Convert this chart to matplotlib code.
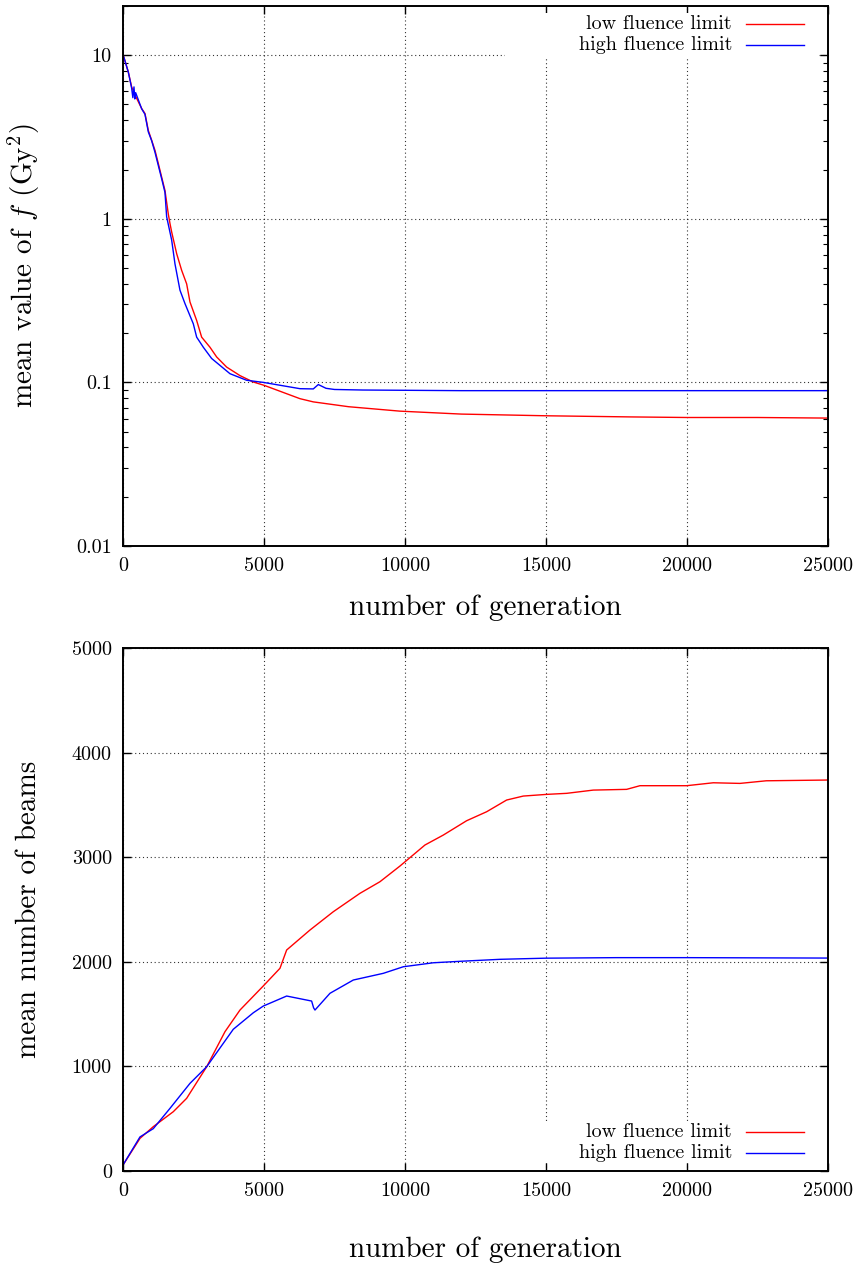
import matplotlib
matplotlib.use('Agg')
import matplotlib.pyplot as plt
from matplotlib.patches import Rectangle
from matplotlib.ticker import FixedLocator, FixedFormatter, LogLocator, NullFormatter

plt.rcParams['font.family'] = ['cmr10']
plt.rcParams['mathtext.fontset'] = 'cm'
plt.rcParams['axes.formatter.use_mathtext'] = True

# --- data ---
# top panel: mean value of f
gen_f_low = [0, 10, 188, 307, 450, 663, 780, 898, 1017, 1135, 1252, 1371, 1489, 1607, 1667,
             1727, 1904, 2081, 2258, 2376, 2613, 2790, 3085, 3322, 3677, 4149, 4622, 5000,
             6277, 6749, 8000, 9823, 12000, 15000, 18000, 20000, 22500, 25000]
f_low = [13, 10, 7.9, 6.4, 5.6, 4.72, 4.4, 3.47, 3.02, 2.62, 2.18, 1.8, 1.49, 1.07, 0.935,
         0.83, 0.612, 0.484, 0.40, 0.31, 0.239, 0.189, 0.164, 0.143, 0.124, 0.110, 0.1005, 0.096,
         0.0795, 0.076, 0.071, 0.0667, 0.064, 0.0625, 0.0615, 0.061, 0.061, 0.0605]

gen_f_high = [0, 10, 188, 307, 350, 390, 420, 450, 663, 780, 898, 1017, 1135, 1252, 1371,
              1489, 1548, 1727, 1844, 2021, 2199, 2494, 2613, 2849, 3144, 3440, 3794, 4386,
              4975, 6277, 6749, 6927, 7200, 7500, 8500, 9823, 12000, 15000, 20000, 25000]
f_high = [13, 10, 7.9, 6.3, 5.5, 6.4, 5.4, 5.9, 4.7, 4.35, 3.4, 3.0, 2.55, 2.12, 1.76,
          1.45, 1.03, 0.74, 0.53, 0.366, 0.303, 0.228, 0.189, 0.164, 0.14, 0.127, 0.113, 0.103,
          0.1, 0.0915, 0.0912, 0.097, 0.092, 0.0905, 0.0898, 0.0895, 0.089, 0.089, 0.089, 0.089]

# bottom panel: mean number of beams
gen_b_low = [0, 603, 1075, 1784, 2258, 2968, 3617, 4149, 4975, 5567, 5804, 6631, 7458, 8404,
             9113, 9823, 10709, 11359, 12186, 12896, 13605, 14196, 15025, 15734, 16678, 17860,
             18333, 19988, 20934, 21880, 22813, 24941, 25000]
beams_low = [57, 312, 424, 567, 695, 997, 1332, 1539, 1769, 1938, 2113, 2304, 2479, 2655,
             2766, 2916, 3117, 3212, 3349, 3435, 3547, 3585, 3601, 3611, 3642, 3649,
             3684, 3684, 3712, 3706, 3731, 3738, 3740]

gen_b_high = [0, 603, 1075, 1667, 2376, 2968, 3911, 4622, 4975, 5804, 6690, 6760, 6809, 7340,
              8167, 9231, 9941, 11005, 11950, 13369, 15000, 17500, 20000, 22500, 25000]
beams_high = [57, 326, 405, 599, 838, 997, 1355, 1513, 1577, 1673, 1625, 1560, 1539, 1699,
              1826, 1890, 1953, 1991, 2005, 2024, 2035, 2040, 2040, 2038, 2036]

x_ticks = [0, 5000, 10000, 15000, 20000, 25000]
f_ticks = [0.01, 0.1, 1, 10]
f_tick_labels = ['0.01', '0.1', '1', '10']
beam_ticks = [0, 1000, 2000, 3000, 4000, 5000]
series_labels = ['low fluence limit', 'high fluence limit']
colors = ['#ff0000', '#0000ff']

TICK = 14.5
LABEL = 21

fig = plt.figure(figsize=(8.63, 12.65), dpi=100)
ax1 = fig.add_axes([0.1425, 0.5684, 0.8169, 0.4269])
ax2 = fig.add_axes([0.1425, 0.0743, 0.8169, 0.4134])


def style(ax):
    for s in ax.spines.values():
        s.set_linewidth(1.4)
    ax.tick_params(which='both', direction='in', top=True, right=True, labelsize=TICK)
    ax.tick_params(which='major', length=6, width=1.0)
    ax.tick_params(which='minor', length=3.5, width=0.8)
    ax.tick_params(axis='x', pad=8)
    ax.tick_params(axis='y', pad=8)
    ax.grid(True, which='major', color='k', linestyle=(0, (1, 2.5)), linewidth=0.8, alpha=0.8)
    ax.set_axisbelow(True)


def key(ax, rows_y, box):
    ax.add_patch(Rectangle((box[0], box[1]), box[2], box[3], transform=ax.transAxes,
                           facecolor='white', edgecolor='none', zorder=1.5))
    for lab, col, yy in zip(series_labels, colors, rows_y):
        ax.text(0.864, yy, lab, transform=ax.transAxes, ha='right', va='center',
                fontsize=TICK, zorder=3)
        ax.plot([0.884, 0.966], [yy, yy], transform=ax.transAxes, color=col,
                linewidth=1.0, zorder=3, clip_on=False)


# top panel
ax1.plot(gen_f_low, f_low, color=colors[0], linewidth=1.0, zorder=2)
ax1.plot(gen_f_high, f_high, color=colors[1], linewidth=1.0, zorder=2)
ax1.set_yscale('log')
ax1.set_xlim(0, 25000)
ax1.set_ylim(0.01, 20)
ax1.yaxis.set_major_locator(FixedLocator(f_ticks))
ax1.yaxis.set_major_formatter(FixedFormatter(f_tick_labels))
ax1.yaxis.set_minor_locator(LogLocator(base=10, subs=range(2, 10)))
ax1.yaxis.set_minor_formatter(NullFormatter())
ax1.set_xticks(x_ticks)
ax1.set_xticklabels([str(v) for v in x_ticks])
style(ax1)
ax1.set_xlabel('number of generation', fontsize=LABEL)
ax1.xaxis.set_label_coords(0.514, -0.089)
ax1.set_ylabel(r'mean value of $f$ (Gy$^2$)', fontsize=LABEL)
ax1.yaxis.set_label_coords(-0.115, 0.52)
key(ax1, [0.967, 0.928], (0.542, 0.906, 0.443, 0.081))

# bottom panel
ax2.plot(gen_b_low, beams_low, color=colors[0], linewidth=1.0, zorder=2)
ax2.plot(gen_b_high, beams_high, color=colors[1], linewidth=1.0, zorder=2)
ax2.set_xlim(0, 25000)
ax2.set_ylim(0, 5000)
ax2.set_xticks(x_ticks)
ax2.set_xticklabels([str(v) for v in x_ticks])
ax2.set_yticks(beam_ticks)
ax2.set_yticklabels([str(v) for v in beam_ticks])
style(ax2)
ax2.set_xlabel('number of generation', fontsize=LABEL)
ax2.xaxis.set_label_coords(0.514, -0.126)
ax2.set_ylabel('mean number of beams', fontsize=LABEL)
ax2.yaxis.set_label_coords(-0.115, 0.5)
key(ax2, [0.0746, 0.0344], (0.542, 0.0153, 0.443, 0.079))

fig.savefig('out.png', dpi=100)
